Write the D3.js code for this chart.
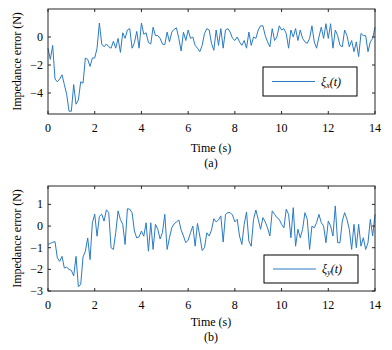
<!DOCTYPE html>
<html><head><meta charset="utf-8">
<script src="https://cdn.jsdelivr.net/npm/d3@7"></script>
<style>body{margin:0;background:#fff}svg{display:block}</style>
</head><body><svg id="c" width="392" height="350" font-family="Liberation Serif, Times New Roman, serif"></svg>
<script>
const timeStep = 0.1;
const xiX = [-0.8,-1.6,-0.6,-3.0,-3.2,-3.0,-2.7,-3.4,-4.1,-5.3,
-5.3,-3.4,-4.8,-4.5,-3.2,-3.3,-1.5,-1.6,-2.1,-1.5,
-1.5,-0.8,1.0,-0.5,-0.7,-0.5,-0.7,-0.8,-0.3,-0.8,
-0.1,-1.1,0.3,-0.1,0.5,0.6,-0.8,-0.4,0.4,-0.8,
1.0,0.2,0.3,-0.4,-0.5,0.7,0.1,0.1,-0.1,-0.5,
-0.55,0.35,-0.35,0.35,0.55,0.65,-0.1,-1.0,0.35,-0.25,
0.5,-0.1,0.0,-0.6,-0.8,-1.05,-0.6,0.25,0.6,0.5,
-0.45,-0.95,0.5,-0.6,0.6,-0.8,0.5,0.6,0.35,-0.1,
-0.25,0.0,-0.35,-0.6,-0.25,-0.8,0.35,-0.6,0.0,-0.1,
0.5,0.8,0.8,0.1,-0.35,-0.7,0.6,-0.25,0.0,0.8,
0.5,0.6,0.25,-0.8,0.5,0.0,0.6,-0.25,0.5,-0.1,
-0.35,-0.45,-0.1,0.8,-0.35,-0.8,0.0,0.7,-0.1,0.95,
-0.1,0.95,-0.8,0.5,0.1,-0.6,-0.7,0.5,0.1,-0.7,
-0.25,-1.05,-0.35,-1.4,0.25,0.1,0.1,-1.05,-0.35,-0.1,
0.7];
const xiY = [-0.85,-0.8,-0.75,-0.72,-1.47,-1.63,-1.4,-1.94,-1.9,-2.0,
-2.05,-2.3,-1.4,-2.8,-2.7,-1.43,-1.16,-0.55,-1.55,0.15,
0.55,-0.47,0.45,0.55,0.23,0.75,0.62,-1.0,-1.08,-0.3,
0.7,0.3,0.08,-0.85,0.8,0.78,0.62,-0.23,-0.55,-0.5,
-0.23,-0.47,0.15,-1.16,0.15,-1.08,0.08,-0.15,-0.6,-0.3,
0.54,-1.08,-0.54,-0.08,0.1,0.19,0.28,-0.18,-0.46,-0.77,
-0.65,-0.31,0.0,-0.93,0.12,-0.46,-1.13,-1.0,-0.31,-0.46,
-0.18,0.34,0.19,0.28,0.47,-0.74,0.54,0.62,0.62,0.51,
0.19,0.31,-0.46,-0.85,0.08,0.65,-0.7,-0.93,0.31,0.74,
0.31,-0.15,0.39,0.19,-0.08,-0.46,0.7,0.54,0.39,0.31,
0.08,-0.08,0.78,0.54,-0.54,0.85,-0.93,-0.15,-0.54,-0.15,
0.62,0.31,-1.08,0.0,-0.08,0.16,0.54,0.16,0.0,-0.77,
0.23,0.0,-0.46,0.93,-0.77,-0.77,0.23,0.62,0.31,-0.15,
-1.08,0.08,-1.0,0.08,-0.93,-0.54,-1.08,-0.77,0.31,-0.46,
0.54];
const xTicks = [0,2,4,6,8,10,12,14];
const yTicksA = [-4,-2,0];
const yTicksB = [-3,-2,-1,0,1];

const svg = d3.select("#c");
const fmt = d => d < 0 ? "\u2212" + Math.abs(d) : String(d);
const FS = 12;

function panel(cfg){
  const {top,bottom,data,ydom,yticks,leg,legSub,cap,capY,tickY,titleY} = cfg;
  const x = d3.scaleLinear().domain([0,14]).range([48,375]);
  const y = d3.scaleLinear().domain(ydom).range([bottom,top]);
  const g = svg.append("g");
  const ax = "#262626";
  const line = d3.line().x((d,i)=>x(i*timeStep)).y(d=>y(d));
  g.append("path").datum(data).attr("d",line).attr("fill","none")
    .attr("stroke","#2a7bc4").attr("stroke-width",1).attr("stroke-linejoin","round");
  g.append("rect").attr("x",x(0)).attr("y",top).attr("width",x(14)-x(0)).attr("height",bottom-top)
    .attr("fill","none").attr("stroke",ax).attr("stroke-width",1);
  xTicks.forEach(t=>{
    g.append("line").attr("x1",x(t)).attr("x2",x(t)).attr("y1",bottom).attr("y2",bottom-3).attr("stroke",ax);
    g.append("line").attr("x1",x(t)).attr("x2",x(t)).attr("y1",top).attr("y2",top+3).attr("stroke",ax);
    g.append("text").attr("x",x(t)).attr("y",tickY).attr("text-anchor","middle").attr("font-size",FS).text(fmt(t));
  });
  yticks.forEach(t=>{
    g.append("line").attr("x1",x(0)).attr("x2",x(0)+3).attr("y1",y(t)).attr("y2",y(t)).attr("stroke",ax);
    g.append("line").attr("x1",x(14)).attr("x2",x(14)-3).attr("y1",y(t)).attr("y2",y(t)).attr("stroke",ax);
    g.append("text").attr("x",43).attr("y",y(t)+4).attr("text-anchor","end").attr("font-size",FS).text(fmt(t));
  });
  g.append("text").attr("x",211).attr("y",titleY).attr("text-anchor","middle").attr("font-size",FS).text("Time (s)");
  g.append("text").attr("x",211).attr("y",capY).attr("text-anchor","middle").attr("font-size",FS).text(cap);
  g.append("text").attr("transform",`translate(21,${(top+bottom)/2}) rotate(-90)`)
    .attr("text-anchor","middle").attr("font-size",FS).text("Impedance error (N)");
  g.append("rect").attr("x",leg.x).attr("y",leg.y).attr("width",leg.w).attr("height",leg.h)
    .attr("fill","#fff").attr("stroke","#000").attr("stroke-width",1);
  const ly = leg.y + leg.h/2;
  g.append("line").attr("x1",leg.x+9).attr("x2",leg.x+52).attr("y1",ly).attr("y2",ly)
    .attr("stroke","#2a7bc4").attr("stroke-width",1);
  const tx = g.append("text").attr("x",leg.x+58).attr("y",ly+4).attr("font-size",FS).attr("font-style","italic");
  tx.append("tspan").text("\u03BE");
  tx.append("tspan").attr("font-size",8).attr("dy",2).text(legSub);
  tx.append("tspan").attr("dy",-2).text("(t)");
}

panel({top:9,bottom:114,data:xiX,ydom:[-5.5,2],yticks:yTicksA,
  leg:{x:263,y:67,w:94,h:29},legSub:"x",cap:"(a)",tickY:132,titleY:152,capY:167});
panel({top:186,bottom:291,data:xiY,ydom:[-3,1.85],yticks:yTicksB,
  leg:{x:264,y:255,w:94,h:28},legSub:"y",cap:"(b)",tickY:309,titleY:326,capY:341});
</script></body></html>
